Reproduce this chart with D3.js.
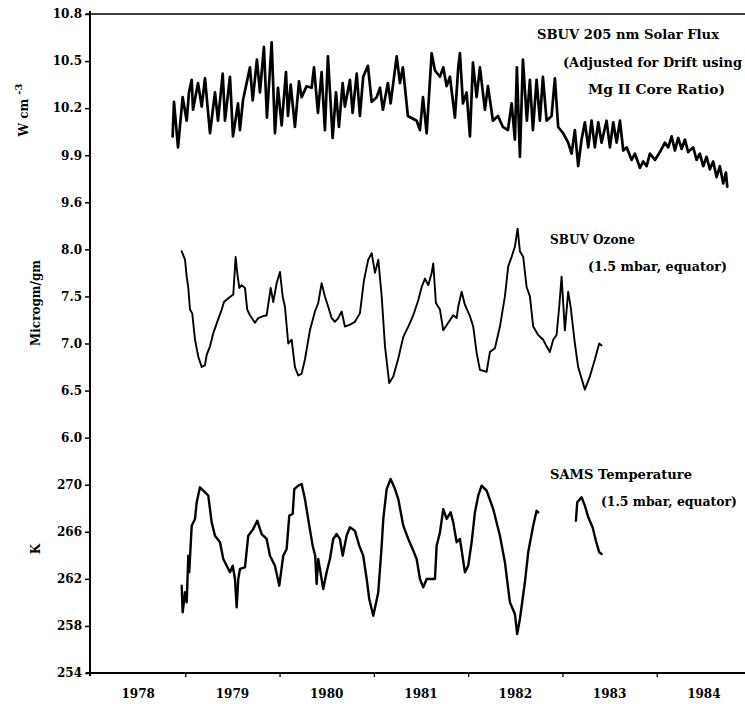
<!DOCTYPE html>
<html><head><meta charset="utf-8">
<script src="https://cdn.jsdelivr.net/npm/d3@7"></script>
<style>body{margin:0;background:#fff}</style>
</head><body>
<svg id="chart" width="745" height="704"></svg>
<script>
const yearTicks = [1979,1980,1981,1982,1983,1984];
const yearLabels = [1978,1979,1980,1981,1982,1983,1984];
const fluxTicks = [10.8,10.5,10.2,9.9,9.6];
const ozoneTicks = [8.0,7.5,7.0,6.5,6.0];
const tempTicks = [270,266,262,258,254];

// [decimal year, W cm^-3]
const solarFlux = [[1978.866,10.02],[1978.880,10.24],[1978.923,9.95],[1978.972,10.27],[1979.015,10.12],[1979.039,10.30],[1979.068,10.38],[1979.082,10.19],[1979.135,10.36],[1979.174,10.21],[1979.209,10.39],[1979.262,10.04],[1979.315,10.30],[1979.347,10.12],[1979.397,10.42],[1979.421,10.12],[1979.474,10.40],[1979.506,10.02],[1979.559,10.23],[1979.580,10.06],[1979.612,10.25],[1979.686,10.46],[1979.715,10.25],[1979.760,10.51],[1979.792,10.30],[1979.834,10.59],[1979.866,10.14],[1979.916,10.62],[1979.951,10.04],[1979.983,10.33],[1980.022,10.09],[1980.068,10.43],[1980.089,10.15],[1980.118,10.35],[1980.163,10.08],[1980.206,10.37],[1980.234,10.27],[1980.287,10.34],[1980.340,10.33],[1980.365,10.46],[1980.407,10.17],[1980.446,10.43],[1980.481,10.06],[1980.513,10.53],[1980.563,10.01],[1980.598,10.30],[1980.630,10.08],[1980.669,10.36],[1980.693,10.21],[1980.746,10.38],[1980.775,10.17],[1980.818,10.42],[1980.852,10.15],[1980.887,10.40],[1980.937,10.47],[1980.977,10.24],[1981.030,10.27],[1981.065,10.33],[1981.096,10.19],[1981.149,10.36],[1981.178,10.23],[1981.242,10.53],[1981.277,10.36],[1981.308,10.46],[1981.361,10.15],[1981.454,10.12],[1981.489,10.06],[1981.521,10.27],[1981.560,10.04],[1981.613,10.55],[1981.648,10.44],[1981.701,10.40],[1981.736,10.46],[1981.772,10.34],[1981.807,10.40],[1981.860,10.14],[1981.895,10.46],[1981.913,10.55],[1981.945,10.23],[1981.984,10.30],[1982.019,10.02],[1982.051,10.49],[1982.090,10.27],[1982.125,10.46],[1982.178,10.19],[1982.210,10.34],[1982.263,10.12],[1982.316,10.15],[1982.369,10.08],[1982.422,10.06],[1982.461,10.23],[1982.496,10.00],[1982.517,10.46],[1982.549,9.89],[1982.581,10.51],[1982.623,10.12],[1982.655,10.38],[1982.687,10.06],[1982.726,10.38],[1982.761,10.12],[1982.793,10.40],[1982.832,10.12],[1982.885,10.15],[1982.920,10.39],[1982.955,10.08],[1983.008,10.04],[1983.061,9.98],[1983.097,9.91],[1983.132,10.06],[1983.167,9.83],[1983.203,10.00],[1983.238,10.11],[1983.274,9.95],[1983.309,10.12],[1983.344,9.95],[1983.380,10.11],[1983.415,9.98],[1983.468,10.12],[1983.504,9.95],[1983.539,10.11],[1983.575,9.98],[1983.610,10.12],[1983.645,9.93],[1983.681,9.95],[1983.734,9.87],[1983.769,9.91],[1983.822,9.82],[1983.857,9.86],[1983.893,9.83],[1983.928,9.91],[1983.981,9.87],[1984.034,9.92],[1984.087,9.98],[1984.122,9.95],[1984.158,10.02],[1984.193,9.93],[1984.228,10.01],[1984.264,9.94],[1984.299,10.00],[1984.334,9.92],[1984.387,9.95],[1984.423,9.87],[1984.458,9.91],[1984.493,9.83],[1984.529,9.89],[1984.564,9.81],[1984.599,9.86],[1984.635,9.76],[1984.670,9.83],[1984.705,9.72],[1984.734,9.79],[1984.748,9.70]];

// [decimal year, Microgm/gm]
const ozone = [[1978.962,7.98],[1978.997,7.89],[1979.015,7.71],[1979.032,7.59],[1979.050,7.36],[1979.074,7.32],[1979.103,7.04],[1979.138,6.86],[1979.174,6.75],[1979.209,6.77],[1979.227,6.88],[1979.262,6.97],[1979.297,7.11],[1979.339,7.23],[1979.386,7.36],[1979.410,7.44],[1979.456,7.48],[1979.509,7.52],[1979.534,7.92],[1979.551,7.75],[1979.573,7.59],[1979.598,7.62],[1979.633,7.59],[1979.657,7.36],[1979.686,7.30],[1979.739,7.22],[1979.774,7.27],[1979.827,7.29],[1979.863,7.30],[1979.906,7.59],[1979.933,7.44],[1979.969,7.64],[1980.004,7.76],[1980.033,7.50],[1980.057,7.39],[1980.092,7.00],[1980.128,7.04],[1980.163,6.75],[1980.198,6.66],[1980.234,6.68],[1980.269,6.83],[1980.322,7.14],[1980.375,7.34],[1980.410,7.43],[1980.446,7.64],[1980.481,7.50],[1980.516,7.39],[1980.552,7.27],[1980.587,7.23],[1980.622,7.27],[1980.658,7.34],[1980.693,7.18],[1980.746,7.20],[1980.799,7.23],[1980.852,7.32],[1980.895,7.67],[1980.940,7.89],[1980.977,7.96],[1981.012,7.75],[1981.047,7.89],[1981.083,7.50],[1981.118,6.97],[1981.163,6.58],[1981.206,6.65],[1981.259,6.84],[1981.312,7.07],[1981.365,7.18],[1981.418,7.30],[1981.471,7.46],[1981.507,7.60],[1981.542,7.69],[1981.577,7.62],[1981.613,7.75],[1981.630,7.85],[1981.658,7.43],[1981.701,7.36],[1981.736,7.14],[1981.789,7.22],[1981.842,7.30],[1981.878,7.27],[1981.895,7.39],[1981.931,7.55],[1981.966,7.41],[1982.019,7.29],[1982.054,7.18],[1982.090,6.90],[1982.125,6.72],[1982.196,6.70],[1982.231,6.91],[1982.284,6.95],[1982.337,7.18],[1982.390,7.50],[1982.425,7.82],[1982.461,7.92],[1982.496,8.03],[1982.525,8.22],[1982.549,7.98],[1982.584,7.92],[1982.620,7.60],[1982.655,7.50],[1982.690,7.18],[1982.743,7.09],[1982.796,7.04],[1982.832,6.97],[1982.867,6.91],[1982.902,7.04],[1982.938,7.09],[1982.966,7.39],[1982.991,7.71],[1983.026,7.14],[1983.061,7.55],[1983.087,7.39],[1983.132,7.00],[1983.167,6.75],[1983.238,6.51],[1983.291,6.65],[1983.344,6.83],[1983.390,7.00],[1983.415,6.98]];

// [decimal year, K]; null marks the data gap
const temperature = [[1978.962,261.42],[1978.972,259.16],[1978.997,260.86],[1979.015,260.01],[1979.032,263.97],[1979.042,262.56],[1979.068,266.52],[1979.103,267.09],[1979.121,268.50],[1979.156,269.78],[1979.191,269.49],[1979.244,269.07],[1979.280,266.80],[1979.315,265.67],[1979.368,265.11],[1979.403,263.69],[1979.439,263.12],[1979.474,262.56],[1979.503,263.12],[1979.527,261.99],[1979.545,259.58],[1979.562,261.99],[1979.580,262.84],[1979.633,262.98],[1979.668,265.67],[1979.721,266.24],[1979.763,266.94],[1979.810,265.81],[1979.863,265.39],[1979.898,263.97],[1979.951,263.12],[1979.997,261.42],[1980.039,263.97],[1980.075,264.54],[1980.103,267.37],[1980.139,267.51],[1980.156,269.63],[1980.198,269.92],[1980.234,270.06],[1980.269,268.78],[1980.315,266.52],[1980.351,264.82],[1980.378,263.97],[1980.393,261.56],[1980.410,263.69],[1980.428,262.84],[1980.463,261.14],[1980.499,262.56],[1980.534,263.69],[1980.569,265.39],[1980.605,265.81],[1980.640,265.39],[1980.669,263.97],[1980.711,265.67],[1980.746,266.38],[1980.799,266.09],[1980.845,264.82],[1980.887,263.97],[1980.924,261.99],[1980.951,260.29],[1980.994,258.87],[1981.047,260.86],[1981.083,264.82],[1981.100,267.09],[1981.136,269.63],[1981.178,270.48],[1981.224,269.63],[1981.259,268.78],[1981.312,266.52],[1981.365,265.39],[1981.411,264.54],[1981.454,263.69],[1981.489,261.99],[1981.524,261.28],[1981.560,261.99],[1981.613,261.99],[1981.648,261.99],[1981.666,264.82],[1981.701,265.95],[1981.736,267.93],[1981.772,267.09],[1981.814,267.65],[1981.842,266.80],[1981.878,265.11],[1981.913,265.39],[1981.966,262.56],[1982.001,263.12],[1982.037,265.11],[1982.072,267.65],[1982.107,269.07],[1982.143,269.92],[1982.196,269.49],[1982.266,267.93],[1982.337,265.67],[1982.390,263.41],[1982.443,260.01],[1982.496,259.01],[1982.520,257.31],[1982.549,258.59],[1982.602,261.71],[1982.637,264.26],[1982.690,266.52],[1982.726,267.79],[1982.743,267.65],[1982.950,null],[1983.143,266.94],[1983.157,268.50],[1983.203,268.93],[1983.238,268.22],[1983.274,267.23],[1983.320,266.38],[1983.355,265.24],[1983.390,264.26],[1983.415,264.11]];

const notes = [
  {text:"SBUV 205 nm Solar Flux", x:537, y:39, w:182},
  {text:"(Adjusted for Drift using", x:563, y:67, w:179},
  {text:"Mg II Core Ratio)", x:588, y:94, w:137},
  {text:"SBUV Ozone", x:550, y:244, w:85},
  {text:"(1.5 mbar, equator)", x:588, y:271, w:139},
  {text:"SAMS Temperature", x:550, y:479, w:142},
  {text:"(1.5 mbar, equator)", x:601, y:506, w:136}
];

const FONT = "'DejaVu Serif', serif";
const svg = d3.select('#chart');
const x = d3.scaleLinear().domain([1978,1985]).range([91, 751]);
const slot = d3.scaleLinear().domain([0,14]).range([14,673]);
const yFlux = d3.scaleLinear().domain([10.8,9.6]).range([slot(0),slot(4)]);
const yOz = d3.scaleLinear().domain([8.0,6.0]).range([slot(5),slot(9)]);
const yT = d3.scaleLinear().domain([270,254]).range([slot(10),slot(14)]);

function leftAxis(scale, ticks, fmt){
  const g = svg.append('g').attr('transform','translate(90,0)')
    .call(d3.axisLeft(scale).tickValues(ticks).tickFormat(d3.format(fmt)).tickSize(5).tickPadding(3));
  g.select('.domain').remove();
  g.selectAll('line').attr('stroke','#000').attr('stroke-width',1.5);
  g.selectAll('text').attr('font-family',FONT).attr('font-weight','bold').attr('font-size',12).attr('fill','#000');
}
leftAxis(yFlux, fluxTicks, '.1f');
leftAxis(yOz, ozoneTicks, '.1f');
leftAxis(yT, tempTicks, 'd');

const gx = svg.append('g').attr('transform','translate(0,673)')
  .call(d3.axisBottom(x).tickValues(yearTicks).tickFormat('').tickSize(4));
gx.select('.domain').remove();
gx.selectAll('line').attr('stroke','#000').attr('stroke-width',1.3);
svg.append('g').selectAll('text').data(yearLabels).join('text')
  .attr('x',d=>x(d+0.5)).attr('y',698).attr('text-anchor','middle')
  .attr('font-family',FONT).attr('font-weight','bold').attr('font-size',12).text(d=>d);

// frame
svg.append('line').attr('x1',90).attr('x2',90).attr('y1',11).attr('y2',676).attr('stroke','#000').attr('stroke-width',2);
svg.append('line').attr('x1',86).attr('x2',745).attr('y1',14).attr('y2',14).attr('stroke','#000').attr('stroke-width',1.5);
svg.append('line').attr('x1',86).attr('x2',745).attr('y1',673).attr('y2',673).attr('stroke','#000').attr('stroke-width',2);

function series(data, yScale, sw){
  svg.append('path').datum(data)
    .attr('fill','none').attr('stroke','#000').attr('stroke-width',sw)
    .attr('stroke-linejoin','round').attr('stroke-linecap','round')
    .attr('d', d3.line().defined(d=>d[1]!=null).x(d=>x(d[0])).y(d=>yScale(d[1])));
}
series(solarFlux, yFlux, 2.7);
series(ozone, yOz, 1.9);
series(temperature, yT, 2.4);

// notes
svg.append('g').selectAll('text').data(notes).join('text')
  .attr('x',d=>d.x).attr('y',d=>d.y).attr('textLength',d=>d.w).attr('lengthAdjust','spacingAndGlyphs')
  .attr('font-family',FONT).attr('font-weight','bold').attr('font-size',12.5).text(d=>d.text);

// y titles
function yTitle(cx, cy, parts){
  const t = svg.append('text').attr('transform',`translate(${cx},${cy}) rotate(-90)`)
    .attr('text-anchor','middle').attr('font-family',FONT).attr('font-weight','bold').attr('font-size',12);
  parts.forEach(p=>{
    const s = t.append('tspan').text(p.t);
    if(p.sup) s.attr('dy',-6).attr('font-size',10);
  });
}
yTitle(28,110,[{t:'W cm '},{t:'-3',sup:true}]);
yTitle(40,303,[{t:'Microgm/gm'}]);
yTitle(40,549,[{t:'K'}]);
</script>
</body></html>
